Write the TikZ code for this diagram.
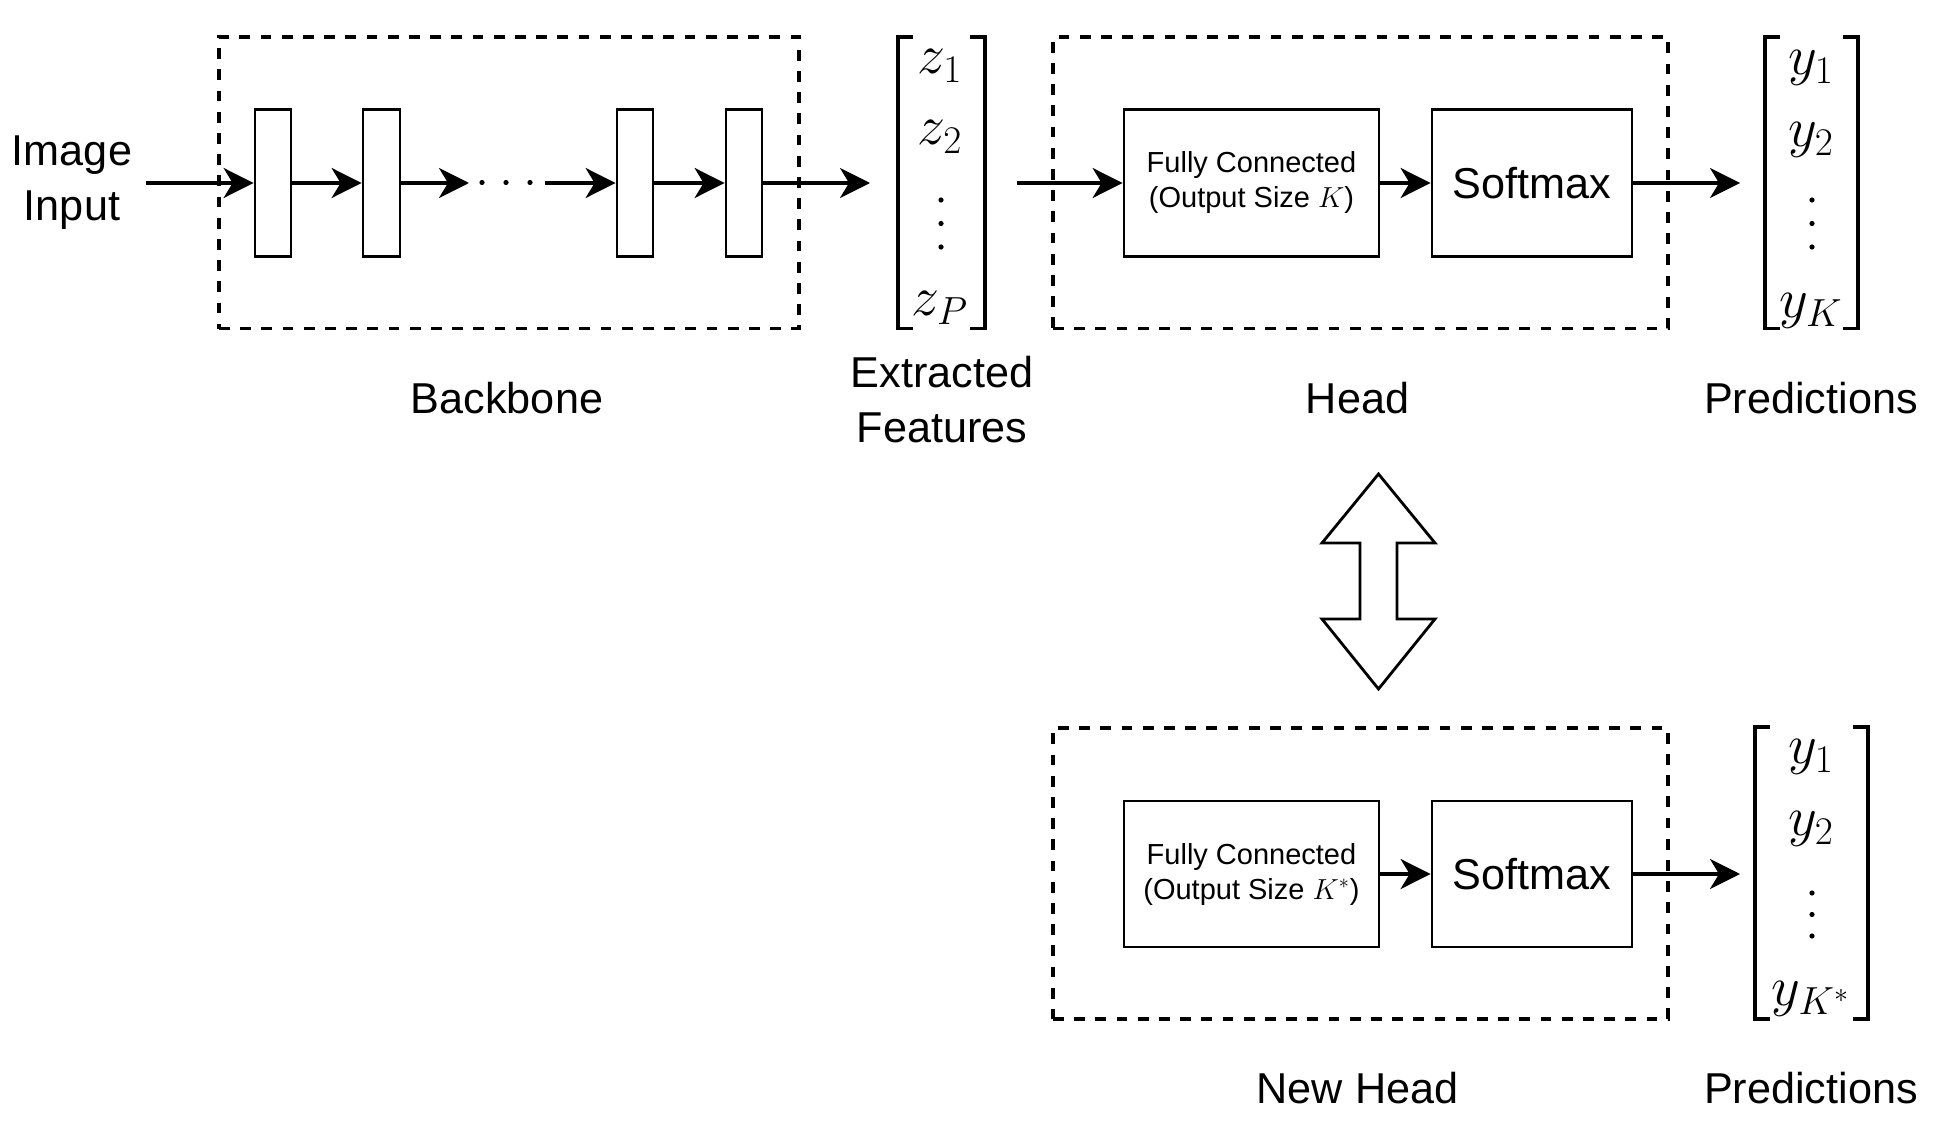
\RequirePackage{fix-cm}
\documentclass[tikz,border=0pt]{standalone}
\usepackage{fontspec}
\setmainfont{Liberation Sans}
\usetikzlibrary{arrows.meta}
\begin{document}
\begin{tikzpicture}[x=0.5pt,y=-0.5pt,
  blk/.style={draw, line width=1.4pt, inner sep=0pt, fill=white},
  grp/.style={draw, line width=1.7pt, dash pattern=on 5.4pt off 5.2pt, inner sep=0pt},
  arr/.style={line width=1.6pt, -{Stealth[length=15pt,width=15pt,inset=4.5pt]}},
  lbl/.style={font=\fontsize{21.6}{27.5}\selectfont, align=center, inner sep=0pt},
  ent/.style={font=\fontsize{28}{32}\selectfont, inner sep=0pt},
  brk/.style={line width=1.6pt},
  fctext/.style={font=\fontsize{14.5}{17.5}\selectfont, align=center},
  big/.style={font=\fontsize{21.6}{26}\selectfont},
]
\useasboundingbox (0,0) rectangle (1944,1129);

% group boxes
\node[grp, minimum width=290pt, minimum height=145.75pt] (backbone) at (509,182.75) {};
\node[grp, minimum width=307.5pt, minimum height=145.75pt] (head) at (1360.5,182.75) {};
\node[grp, minimum width=307.5pt, minimum height=145.5pt] (newhead) at (1360.5,873.5) {};

% backbone layers
\node[blk, minimum width=18pt, minimum height=73.5pt] (r1) at (273,183) {};
\node[blk, minimum width=18.5pt, minimum height=73.5pt] (r2) at (381.5,183) {};
\node[blk, minimum width=18pt, minimum height=73.5pt] (r3) at (635,183) {};
\node[blk, minimum width=18pt, minimum height=73.5pt] (r4) at (744,183) {};

% head blocks
\node[blk, minimum width=127.5pt, minimum height=73.5pt, fctext] (fc) at (1251.5,183) {Fully Connected\\(Output Size $K$)};
\node[blk, minimum width=100pt, minimum height=73.5pt, big] (sm) at (1532,183) {Softmax};
\node[blk, minimum width=127.5pt, minimum height=73pt, fctext] (fc2) at (1251.5,874) {Fully Connected\\(Output Size $K^{*}$)};
\node[blk, minimum width=100pt, minimum height=73pt, big] (sm2) at (1532,874) {Softmax};

% labels
\node[lbl] (imgin) at (72,183) {Image\\Input};
\node[lbl] (bbl) at (507,398) {Backbone};
\node[lbl] (featl) at (942,400) {Extracted\\Features};
\node[lbl] (headl) at (1357.5,398) {Head};
\node[lbl] (pred1) at (1811,398) {Predictions};
\node[lbl] (newheadl) at (1357.5,1088.5) {New Head};
\node[lbl] (pred2) at (1811,1088.5) {Predictions};

% feature vector
\draw[brk] (913,37) -- (898,37) -- (898,328.5) -- (913,328.5);
\draw[brk] (970,37) -- (985,37) -- (985,328.5) -- (970,328.5);
\node[ent] (z1) at (940,66) {$z_1$};
\node[ent] (z2) at (940,137) {$z_2$};
\node[ent] (zp) at (940,308) {$z_P$};
\foreach \yy in {200,223.5,247} \fill (941,\yy) circle (1.3pt);

% predictions (top)
\draw[brk] (1780,37) -- (1765,37) -- (1765,328.5) -- (1780,328.5);
\draw[brk] (1843,37) -- (1858,37) -- (1858,328.5) -- (1843,328.5);
\node[ent] (y1) at (1811,68) {$y_1$};
\node[ent] (y2) at (1811,140) {$y_2$};
\node[ent] (yk) at (1811,311) {$y_K$};
\foreach \yy in {200,223.5,247} \fill (1812,\yy) circle (1.3pt);

% predictions (bottom)
\draw[brk] (1770,727) -- (1755,727) -- (1755,1019) -- (1770,1019);
\draw[brk] (1853,727) -- (1868,727) -- (1868,1019) -- (1853,1019);
\node[ent] (b1) at (1811,757) {$y_1$};
\node[ent] (b2) at (1811,829) {$y_2$};
\node[ent] (bk) at (1811,999) {$y_{K^{*}}$};
\foreach \yy in {893,914.5,936} \fill (1812,\yy) circle (1.3pt);

% backbone dots
\foreach \xx in {482,506,530} \fill (\xx,182.5) circle (1.3pt);

% connectors
\coordinate (inS) at (146,183);
\coordinate (d1) at (469,183);
\coordinate (d2) at (545,183);
\coordinate (featIn) at (870,183);
\coordinate (hin) at (1017,183);
\coordinate (pin) at (1740,183);
\coordinate (pin2) at (1740,874);
\draw[arr] (inS) -- (r1.west);
\draw[arr] (r1.east) -- (r2.west);
\draw[arr] (r2.east) -- (d1);
\draw[arr] (d2) -- (r3.west);
\draw[arr] (r3.east) -- (r4.west);
\draw[arr] (r4.east) -- (featIn);
\draw[arr] (hin) -- (fc.west);
\draw[arr] (fc.east) -- (sm.west);
\draw[arr] (sm.east) -- (pin);
\draw[arr] (fc2.east) -- (sm2.west);
\draw[arr] (sm2.east) -- (pin2);

% double block arrow
\draw[line width=1.4pt, fill=white, line join=miter]
  (1378.5,474) -- (1435,543) -- (1397,543) -- (1397,619) -- (1435,619) -- (1378.5,689)
  -- (1322,619) -- (1360,619) -- (1360,543) -- (1322,543) -- cycle;
\end{tikzpicture}
\end{document}
